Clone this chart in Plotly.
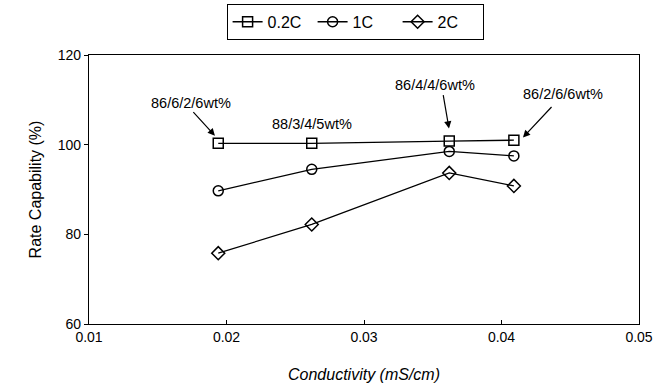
import plotly.graph_objects as go

conductivity = [0.0194, 0.0262, 0.0362, 0.0409]
rate_02C = [100.3, 100.3, 100.8, 101.0]
rate_1C = [89.7, 94.5, 98.5, 97.5]
rate_2C = [75.8, 82.2, 93.7, 90.8]
series_names = ["0.2C", "1C", "2C"]
x_ticks = [0.01, 0.02, 0.03, 0.04, 0.05]
y_ticks = [60, 80, 100, 120]

labels = ["86/6/2/6wt%", "88/3/4/5wt%", "86/4/4/6wt%", "86/2/6/6wt%"]

FONT = "Liberation Sans, Arial, sans-serif"

fig = go.Figure()
symbols = ["square-open", "circle-open", "diamond-open"]
for name, vals, sym in zip(series_names, [rate_02C, rate_1C, rate_2C], symbols):
    fig.add_trace(go.Scatter(
        x=conductivity, y=vals, name=name, mode="lines+markers",
        line=dict(color="black", width=1.3),
        marker=dict(symbol=sym, size=10, color="black", line=dict(width=1.5, color="black")),
    ))

# text labels
text_pos = [(0.01742, 109.4), (0.02622, 104.7), (0.03516, 113.2), (0.04447, 111.4)]
for t, (tx, ty) in zip(labels, text_pos):
    fig.add_annotation(x=tx, y=ty, text=t, showarrow=False,
                       font=dict(family=FONT, size=14.5, color="black"))

# arrows (head at data point, tail offset in pixels)
arrows = [(0.01916, 102.0, -23, -25), (0.03618, 103.6, -6, -35), (0.04156, 101.6, 30, -32)]
for hx, hy, ax, ay in arrows:
    fig.add_annotation(x=hx, y=hy, text="", showarrow=True, ax=ax, ay=ay,
                       arrowhead=2, arrowsize=1.2, arrowwidth=1.2, arrowcolor="black",
                       standoff=0)

fig.update_layout(
    width=670, height=384,
    margin=dict(l=89, r=31, t=55, b=60, autoexpand=False),
    paper_bgcolor="white", plot_bgcolor="white",
    font=dict(family=FONT, color="black", size=14),
    showlegend=True,
    legend=dict(orientation="h", xref="container", x=0.53, xanchor="center",
                yref="container", y=0.99, yanchor="top",
                bordercolor="black", borderwidth=1,
                font=dict(size=16, family=FONT),
                entrywidth=40, entrywidthmode="pixels", itemwidth=30),
)

fig.update_xaxes(range=[0.01, 0.05], tickvals=x_ticks, ticktext=["0.01", "0.02", "0.03", "0.04", "0.05"],
                 showline=True, linecolor="black", linewidth=1.2, mirror=True,
                 ticks="inside", ticklen=4, tickcolor="black", showgrid=False, zeroline=False,
                 tickfont=dict(size=14), automargin=False,
                 title=dict(text="<i>Conductivity (mS/cm)</i>", font=dict(size=16), standoff=24))
fig.update_yaxes(range=[60, 120], tickvals=y_ticks,
                 showline=True, linecolor="black", linewidth=1.2, mirror=True,
                 ticks="outside", ticklen=4, tickcolor="black", showgrid=False, zeroline=False,
                 tickfont=dict(size=14), automargin=False,
                 title=dict(text="Rate Capability (%)", font=dict(size=16), standoff=12))

fig.write_html("out.html", config={"displayModeBar": False},
               post_script="document.body.style.margin='0';")
